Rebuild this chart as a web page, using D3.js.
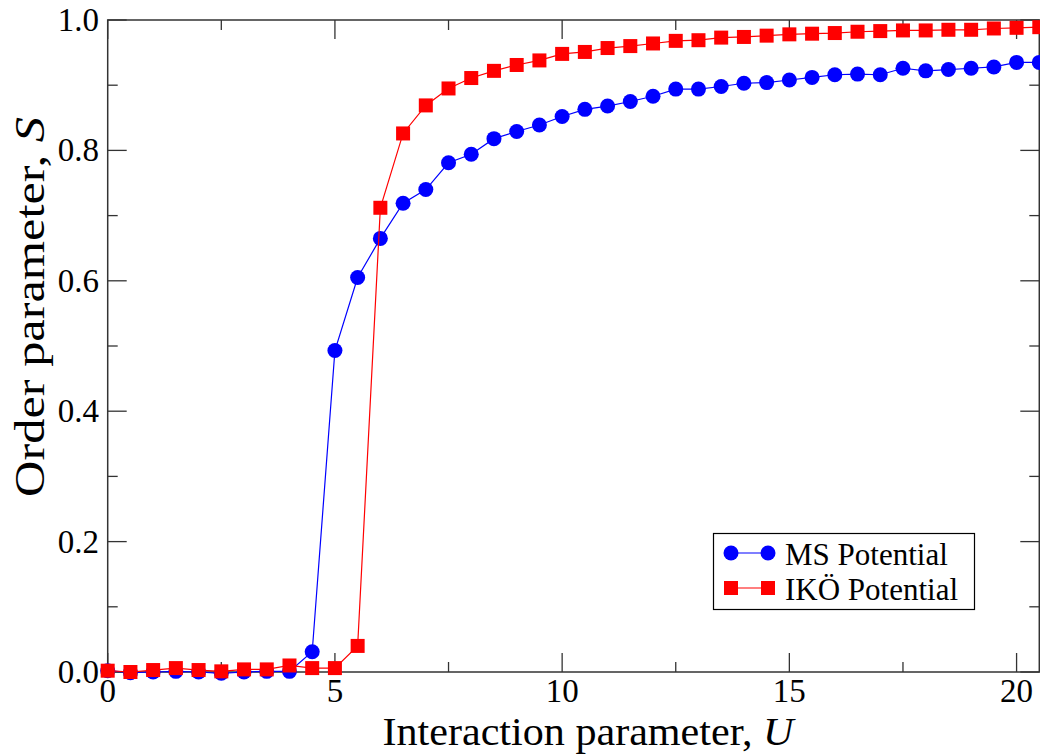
<!DOCTYPE html>
<html>
<head>
<meta charset="utf-8">
<script src="https://cdn.jsdelivr.net/npm/d3@7"></script>
<style>
  body { margin: 0; background: #fff; }
  svg { display: block; }
  text { font-family: "Liberation Serif", "Times New Roman", serif; fill: #000; }
</style>
</head>
<body>
<div id="chart"></div>
<script>
// interaction parameter U (step 0.5)
const uValues = d3.range(0, 20.51, 0.5);
// MS potential order parameter
const msValues = [0.002, -0.001, 0.000, 0.001, 0.000, -0.002, 0.000, 0.001, 0.001, 0.031,
    0.493, 0.605, 0.665, 0.719, 0.740, 0.781, 0.794, 0.818, 0.829, 0.839,
    0.852, 0.863, 0.868, 0.875, 0.883, 0.894, 0.894, 0.898, 0.903, 0.904,
    0.908, 0.912, 0.916, 0.917, 0.916, 0.926, 0.922, 0.924, 0.926, 0.928,
    0.935, 0.935];
// IKÖ potential order parameter
const ikoValues = [0.002, 0.000, 0.003, 0.006, 0.003, 0.001, 0.004, 0.004, 0.010, 0.006,
    0.006, 0.040, 0.712, 0.826, 0.869, 0.895, 0.911, 0.922, 0.931, 0.938,
    0.948, 0.951, 0.957, 0.960, 0.964, 0.968, 0.969, 0.973, 0.974, 0.976,
    0.978, 0.979, 0.980, 0.982, 0.983, 0.984, 0.984, 0.985, 0.985, 0.987,
    0.988, 0.989];
const xMajor = [0, 5, 10, 15, 20];
const xMinor = [2.5, 7.5, 12.5, 17.5];
const yMajor = [0, 0.2, 0.4, 0.6, 0.8, 1.0];
const yMinor = [0.1, 0.3, 0.5, 0.7, 0.9];
const seriesNames = ["MS Potential", "IKÖ Potential"];

const W = 1040, H = 754;
const plotL = 107.7, plotT = 20, plotR = 1039.3, plotB = 672;

const svg = d3.select("#chart").append("svg")
    .attr("width", W)
    .attr("height", H);

const x = d3.scaleLinear().domain([0, 20.5]).range([plotL, plotR]);
const y = d3.scaleLinear().domain([0, 1]).range([plotB, plotT]);

// frame
const axisColor = "#333";
svg.append("rect")
    .attr("x", plotL).attr("y", plotT)
    .attr("width", plotR - plotL).attr("height", plotB - plotT)
    .attr("fill", "none").attr("stroke", axisColor).attr("stroke-width", 1.5);

// ticks on all four sides, pointing in
const ticks = svg.append("g").attr("stroke", axisColor).attr("stroke-width", 1.3);
function xTicks(vals, len) {
    vals.forEach(function(v) {
        ticks.append("line").attr("x1", x(v)).attr("x2", x(v)).attr("y1", plotB).attr("y2", plotB - len);
        ticks.append("line").attr("x1", x(v)).attr("x2", x(v)).attr("y1", plotT).attr("y2", plotT + len);
    });
}
function yTicks(vals, len) {
    vals.forEach(function(v) {
        ticks.append("line").attr("y1", y(v)).attr("y2", y(v)).attr("x1", plotL).attr("x2", plotL + len);
        ticks.append("line").attr("y1", y(v)).attr("y2", y(v)).attr("x1", plotR).attr("x2", plotR - len);
    });
}
xTicks(xMajor, 19);
xTicks(xMinor, 10);
yTicks(yMajor, 19);
yTicks(yMinor, 10);

// tick labels
svg.append("g").selectAll("text")
    .data(xMajor).enter().append("text")
    .attr("x", function(d) { return x(d); })
    .attr("y", 702)
    .attr("text-anchor", "middle")
    .style("font-size", "33px")
    .text(function(d) { return d; });

svg.append("g").selectAll("text")
    .data(yMajor).enter().append("text")
    .attr("x", 99)
    .attr("y", function(d) { return y(d) + 11; })
    .attr("text-anchor", "end")
    .style("font-size", "33px")
    .text(function(d) { return d.toFixed(1); });

// axis titles
const xt = svg.append("text")
    .attr("transform", "translate(588,745) scale(1.08,1)")
    .attr("text-anchor", "middle")
    .style("font-size", "39px");
xt.append("tspan").text("Interaction parameter, ");
xt.append("tspan").style("font-style", "italic").text("U");

const yt = svg.append("text")
    .attr("transform", "translate(44,307) rotate(-90) scale(1.2,1)")
    .attr("text-anchor", "middle")
    .style("font-size", "42px");
yt.append("tspan").text("Order parameter, ");
yt.append("tspan").style("font-style", "italic").text("S");

// series
const line = d3.line()
    .x(function(d) { return x(d[0]); })
    .y(function(d) { return y(d[1]); });

const msData = uValues.map(function(u, i) { return [u, msValues[i]]; });
const ikoData = uValues.map(function(u, i) { return [u, ikoValues[i]]; });

const g1 = svg.append("g");
g1.append("path").datum(msData)
    .attr("d", line).attr("fill", "none").attr("stroke", "#0000ff").attr("stroke-width", 1.2);
g1.selectAll("circle").data(msData).enter().append("circle")
    .attr("cx", function(d) { return x(d[0]); })
    .attr("cy", function(d) { return y(d[1]); })
    .attr("r", 7.5)
    .attr("fill", "#0000ff");

const g2 = svg.append("g");
g2.append("path").datum(ikoData)
    .attr("d", line).attr("fill", "none").attr("stroke", "#ff0000").attr("stroke-width", 1.2);
g2.selectAll("rect").data(ikoData).enter().append("rect")
    .attr("x", function(d) { return x(d[0]) - 7; })
    .attr("y", function(d) { return y(d[1]) - 7; })
    .attr("width", 14).attr("height", 14)
    .attr("fill", "#ff0000");

// legend
const lg = svg.append("g");
lg.append("rect")
    .attr("x", 713.5).attr("y", 533.5)
    .attr("width", 261).attr("height", 76)
    .attr("fill", "#fff").attr("stroke", "#000").attr("stroke-width", 1.2);
const rows = [553, 588];
lg.append("line").attr("x1", 731).attr("x2", 768).attr("y1", rows[0]).attr("y2", rows[0])
    .attr("stroke", "#0000ff").attr("stroke-width", 1.2);
[731, 768].forEach(function(cx) {
    lg.append("circle").attr("cx", cx).attr("cy", rows[0]).attr("r", 7.5).attr("fill", "#0000ff");
});
lg.append("line").attr("x1", 731).attr("x2", 768).attr("y1", rows[1]).attr("y2", rows[1])
    .attr("stroke", "#ff0000").attr("stroke-width", 1.2);
[731, 768].forEach(function(cx) {
    lg.append("rect").attr("x", cx - 7).attr("y", rows[1] - 7).attr("width", 14).attr("height", 14).attr("fill", "#ff0000");
});
lg.selectAll("text.lab").data(seriesNames).enter().append("text")
    .attr("class", "lab")
    .attr("x", 785)
    .attr("y", function(d, i) { return rows[i] + 12; })
    .style("font-size", "31px")
    .text(function(d) { return d; });
</script>
</body>
</html>
